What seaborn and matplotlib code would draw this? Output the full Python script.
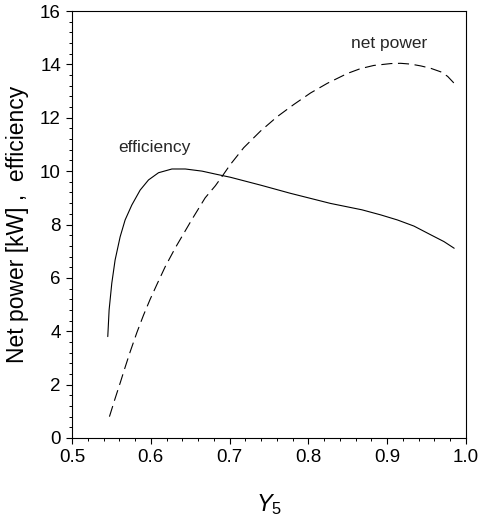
import numpy as np
import pandas as pd
import matplotlib
matplotlib.use("Agg")
import matplotlib.pyplot as plt
from matplotlib.ticker import MultipleLocator
import seaborn as sns

# ---- data ----
eff_x = [0.5454, 0.5471, 0.5505, 0.5547, 0.5611, 0.5674, 0.5759, 0.5865, 0.5971,
         0.6098, 0.6268, 0.6438, 0.6650, 0.6819, 0.701, 0.740, 0.777, 0.828,
         0.868, 0.8918, 0.913, 0.934, 0.9555, 0.972, 0.985]
eff_y = [3.80, 4.80, 5.80, 6.67, 7.54, 8.17, 8.73, 9.29, 9.67,
         9.94, 10.08, 10.08, 10.00, 9.89, 9.77, 9.47, 9.17, 8.79,
         8.55, 8.36, 8.17, 7.94, 7.61, 7.36, 7.11]

pow_x = [0.5475, 0.5547, 0.5611, 0.5674, 0.5738, 0.5823, 0.5907, 0.5992, 0.6077,
         0.6183, 0.6310, 0.652, 0.669, 0.6819, 0.6904, 0.701, 0.718, 0.7392,
         0.7604, 0.7816, 0.8028, 0.824, 0.8495, 0.866, 0.883, 0.9046, 0.917,
         0.930, 0.943, 0.9555, 0.968, 0.9767, 0.985]
pow_y = [0.80, 1.48, 2.06, 2.65, 3.23, 3.95, 4.60, 5.20, 5.75,
         6.42, 7.12, 8.18, 9.00, 9.45, 9.80, 10.25, 10.88, 11.50,
         12.04, 12.50, 12.93, 13.29, 13.66, 13.84, 13.96, 14.03, 14.04,
         14.01, 13.94, 13.85, 13.72, 13.55, 13.29]

series_names = ["efficiency", "net power"]
x_ticks = [0.5, 0.6, 0.7, 0.8, 0.9, 1.0]
x_tick_labels = ["0.5", "0.6", "0.7", "0.8", "0.9", "1.0"]
y_ticks = [0, 2, 4, 6, 8, 10, 12, 14, 16]

df = pd.concat([
    pd.DataFrame({"Y5": eff_x, "value": eff_y, "series": series_names[0]}),
    pd.DataFrame({"Y5": pow_x, "value": pow_y, "series": series_names[1]}),
], ignore_index=True)

sns.set_theme(style="ticks")
plt.rcParams["font.family"] = ["Liberation Sans", "DejaVu Sans"]
plt.rcParams["mathtext.fontset"] = "custom"
plt.rcParams["mathtext.rm"] = "Liberation Sans"
plt.rcParams["mathtext.it"] = "Liberation Sans:italic"

fig = plt.figure(figsize=(4.81, 5.29), dpi=100)
ax = fig.add_axes([72 / 481, 1 - 438 / 529, (466 - 72) / 481, (438 - 11) / 529])

sns.lineplot(data=df, x="Y5", y="value", style="series",
             dashes={"efficiency": "", "net power": (10, 5)},
             color="black", linewidth=0.8, estimator=None, sort=False,
             legend=False, ax=ax)

ax.set_xlim(0.5, 1.0)
ax.set_ylim(0, 16)
ax.set_xticks(x_ticks)
ax.set_xticklabels(x_tick_labels)
ax.set_yticks(y_ticks)
ax.xaxis.set_minor_locator(MultipleLocator(0.02))
ax.yaxis.set_minor_locator(MultipleLocator(0.4))
ax.tick_params(which="major", direction="out", length=4, width=0.8,
               labelsize=13.5, colors="black", pad=4)
ax.tick_params(which="minor", direction="out", length=2.2, width=0.7,
               colors="black")
for s in ax.spines.values():
    s.set_visible(True)
    s.set_linewidth(0.8)
    s.set_color("black")

ax.set_xlabel(r"$Y_5$", fontsize=17, labelpad=19, color="black")
ax.set_ylabel("Net power [kW] ,  efficiency", fontsize=16.5, labelpad=8, color="black")

ax.text(0.604, 10.9, series_names[0], ha="center", va="center", fontsize=12.5)
ax.text(0.902, 14.79, series_names[1], ha="center", va="center", fontsize=12.5)

fig.savefig("out.png", dpi=100)
